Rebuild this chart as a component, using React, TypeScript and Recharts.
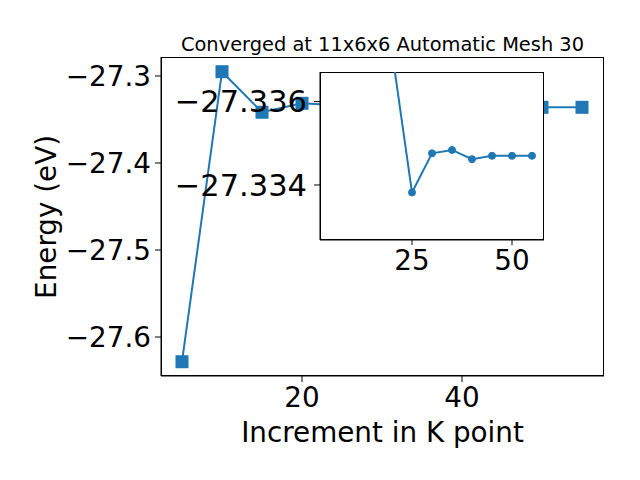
import { LineChart, Line, XAxis, YAxis } from "recharts";

// main plot: k-point increment vs total energy
const kPoints = [5, 10, 15, 20, 25, 30, 35, 40, 45, 50, 55];
const energies = [
  -27.6284, -27.2951, -27.3417, -27.3314, -27.334, -27.336, -27.336, -27.336,
  -27.336, -27.336, -27.336,
];
const mainYTicks = [-27.6, -27.5, -27.4, -27.3];
const mainXTicks = [20, 40];

// inset (zoomed) values
const insetK = [20, 25, 30, 35, 40, 45, 50, 55];
const insetEnergies = [
  -27.3372, -27.33382, -27.33476, -27.33484, -27.33462, -27.3347, -27.3347,
  -27.3347,
];
const insetYTicks = [-27.336, -27.334];
const insetXTicks = [25, 50];

const BLUE = "#1f77b4";
const FONT = "DejaVu Sans";

const mainData = kPoints.map((k, i) => ({ k, energy: energies[i] }));
const insetData = insetK.map((k, i) => ({ k, energy: insetEnergies[i] }));

const minus = (v: number, d: number) => v.toFixed(d).replace("-", "\u2212");

function SquareDot(props: any) {
  const { cx, cy, index } = props;
  if (cx == null || cy == null) return null;
  return (
    <rect key={`sq-${index}`} x={cx - 6.5} y={cy - 6.5} width={13} height={13} fill={BLUE} />
  );
}

export default function App() {
  const tickMain = { fill: "#000", fontSize: 27.8, fontFamily: FONT };
  const tickInsetY = { fill: "#000", fontSize: 30.5, fontFamily: FONT };
  return (
    <div
      style={{
        position: "absolute",
        left: 0,
        top: 0,
        width: 640,
        height: 480,
        background: "#fff",
        fontFamily: FONT,
        overflow: "hidden",
      }}
    >
      <div
        style={{
          position: "absolute",
          left: 161,
          top: 34.6,
          width: 443,
          textAlign: "center",
          fontSize: 19.4,
          lineHeight: "19.4px",
          whiteSpace: "nowrap",
        }}
      >
        Converged at 11x6x6 Automatic Mesh 30
      </div>

      <div style={{ position: "absolute", left: 0, top: 0 }}>
        <LineChart
          width={640}
          height={480}
          data={mainData}
          margin={{ top: 57, right: 36, left: 61, bottom: 64 }}
        >
          <XAxis
            dataKey="k"
            type="number"
            domain={[2.375, 57.75]}
            ticks={mainXTicks}
            allowDataOverflow
            height={40}
            tickSize={6}
            tickMargin={5}
            stroke="#000"
            tick={tickMain}
          />
          <YAxis
            type="number"
            domain={[-27.6448, -27.2782]}
            ticks={mainYTicks}
            allowDataOverflow
            width={100}
            tickSize={6}
            tickMargin={4}
            stroke="#000"
            tick={tickMain}
            tickFormatter={(v: number) => minus(v, 1)}
          />
          <Line
            dataKey="energy"
            stroke={BLUE}
            strokeWidth={2}
            dot={SquareDot}
            activeDot={false}
            isAnimationActive={false}
          />
        </LineChart>
      </div>

      {/* axes frame */}
      <div
        style={{
          position: "absolute",
          left: 161,
          top: 57,
          width: 443,
          height: 319,
          border: "1px solid #000",
          boxSizing: "border-box",
          pointerEvents: "none",
        }}
      />

      <div
        style={{
          position: "absolute",
          left: 0,
          top: 418.5,
          width: 765,
          textAlign: "center",
          fontSize: 27.8,
          lineHeight: "27.8px",
          whiteSpace: "nowrap",
        }}
      >
        Increment in K point
      </div>
      <div
        style={{
          position: "absolute",
          left: -103,
          top: 202.6,
          width: 300,
          height: 27.8,
          textAlign: "center",
          fontSize: 27.8,
          lineHeight: "27.8px",
          whiteSpace: "nowrap",
          transform: "rotate(-90deg)",
        }}
      >
        Energy (eV)
      </div>

      {/* inset background */}
      <div
        style={{
          position: "absolute",
          left: 320,
          top: 72,
          width: 224,
          height: 168,
          background: "#fff",
          border: "1px solid #000",
          boxSizing: "border-box",
        }}
      />
      <div style={{ position: "absolute", left: 170, top: 62 }}>
        <LineChart
          width={390}
          height={218}
          data={insetData}
          margin={{ top: 10, right: 16, left: 0, bottom: 0 }}
        >
          <XAxis
            dataKey="k"
            type="number"
            domain={[2, 58]}
            ticks={insetXTicks}
            allowDataOverflow
            height={40}
            tickSize={5}
            tickMargin={5}
            stroke="#000"
            tick={tickMain}
          />
          <YAxis
            type="number"
            domain={[-27.33671, -27.33268]}
            reversed
            ticks={insetYTicks}
            allowDataOverflow
            width={150}
            tickSize={6}
            tickMargin={7}
            stroke="#000"
            tick={tickInsetY}
            tickFormatter={(v: number) => minus(v, 3)}
          />
          <Line
            dataKey="energy"
            stroke={BLUE}
            strokeWidth={2}
            dot={{ r: 3.5, fill: BLUE, stroke: BLUE, strokeWidth: 1 }}
            activeDot={false}
            isAnimationActive={false}
          />
        </LineChart>
      </div>
    </div>
  );
}
